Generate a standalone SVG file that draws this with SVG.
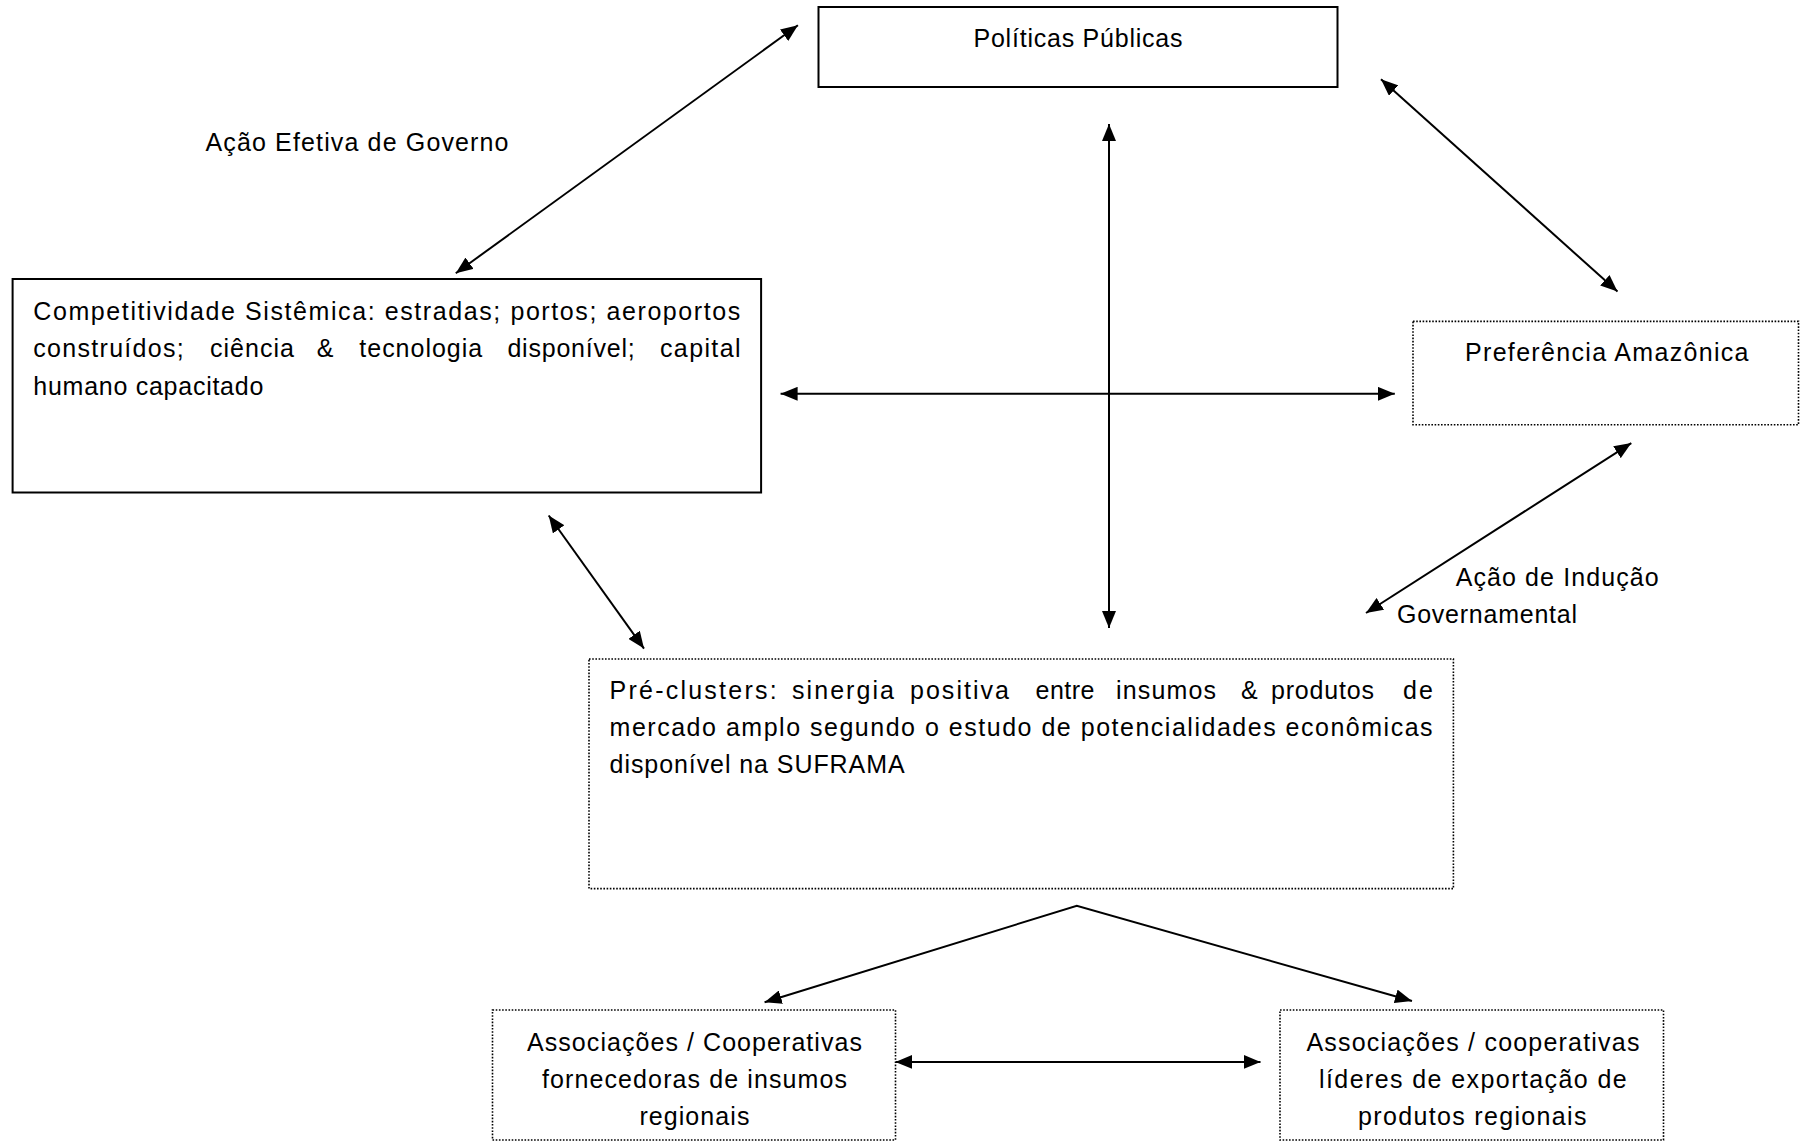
<svg xmlns="http://www.w3.org/2000/svg" width="1800" height="1141" viewBox="0 0 1800 1141">
<style>
  .box{fill:#fff;stroke:#000;stroke-width:2}
  .dot{fill:#fff;stroke:#000;stroke-width:1.6;stroke-dasharray:1.6 1.6}
  .t{font-family:"Liberation Sans",Arial,sans-serif;font-size:25px;fill:#000}
  .c{stroke:#000;stroke-width:2;fill:none}
</style>
<defs>
  <marker id="ah" markerUnits="userSpaceOnUse" markerWidth="18" markerHeight="14" refX="17" refY="7" orient="auto-start-reverse">
    <path d="M0,0 L17,7 L0,14 z" fill="#000"/>
  </marker>
</defs>
<rect width="1800" height="1141" fill="#fff"/>

<g id="connectors">
  <line class="c" x1="797.9" y1="25.3" x2="455.8" y2="273.2" marker-start="url(#ah)" marker-end="url(#ah)"/>
  <line class="c" x1="1381" y1="79.2" x2="1617.5" y2="291.6" marker-start="url(#ah)" marker-end="url(#ah)"/>
  <line class="c" x1="1109" y1="124" x2="1109" y2="628" marker-start="url(#ah)" marker-end="url(#ah)"/>
  <line class="c" x1="780.6" y1="393.8" x2="1394.8" y2="393.8" marker-start="url(#ah)" marker-end="url(#ah)"/>
  <line class="c" x1="1631.3" y1="443.1" x2="1366" y2="613" marker-start="url(#ah)" marker-end="url(#ah)"/>
  <line class="c" x1="548.7" y1="515.5" x2="644" y2="648.6" marker-start="url(#ah)" marker-end="url(#ah)"/>
  <polyline class="c" points="764.6,1002.2 1076.8,905.8 1412,1001" marker-start="url(#ah)" marker-end="url(#ah)"/>
  <line class="c" x1="895.4" y1="1061.9" x2="1260.5" y2="1061.9" marker-start="url(#ah)" marker-end="url(#ah)"/>
</g>

<g id="label-acao-efetiva">
  <text class="t" x="205.5" y="151" textLength="303" lengthAdjust="spacing">Ação Efetiva de Governo</text>
</g>
<g id="label-acao-inducao">
  <text class="t" x="1455.7" y="586" textLength="203" lengthAdjust="spacing">Ação de Indução</text>
  <text class="t" x="1397" y="623" textLength="180" lengthAdjust="spacing">Governamental</text>
</g>

<g id="node-politicas">
  <rect class="box" x="818.5" y="7" width="519" height="80"/>
  <text class="t" x="973.5" y="47" textLength="209" lengthAdjust="spacing">Políticas Públicas</text>
</g>

<g id="node-competitividade">
  <rect class="box" x="12.6" y="279" width="748.5" height="213.5"/>
  <text class="t" x="33.3" y="320" textLength="707" lengthAdjust="spacing">Competitividade Sistêmica: estradas; portos; aeroportos</text>
  <text class="t" x="33.3" y="357" textLength="150.4" lengthAdjust="spacing">construídos;</text>
  <text class="t" x="210" y="357" textLength="83.9" lengthAdjust="spacing">ciência</text>
  <text class="t" x="316.8" y="357" textLength="18.4" lengthAdjust="spacing">&amp;</text>
  <text class="t" x="359.3" y="357" textLength="122.9" lengthAdjust="spacing">tecnologia</text>
  <text class="t" x="507.4" y="357" textLength="127.4" lengthAdjust="spacing">disponível;</text>
  <text class="t" x="660" y="357" textLength="80.5" lengthAdjust="spacing">capital</text>
  <text class="t" x="33.3" y="395" textLength="230" lengthAdjust="spacing">humano capacitado</text>
</g>

<g id="node-preferencia">
  <rect class="dot" x="1413" y="321.4" width="385.5" height="103.4"/>
  <text class="t" x="1465" y="361" textLength="283.5" lengthAdjust="spacing">Preferência Amazônica</text>
</g>

<g id="node-preclusters">
  <rect class="dot" x="589" y="659" width="864.4" height="229.6"/>
  <text class="t" x="609.6" y="699" textLength="167" lengthAdjust="spacing">Pré-clusters:</text>
  <text class="t" x="792" y="699" textLength="102" lengthAdjust="spacing">sinergia</text>
  <text class="t" x="910" y="699" textLength="99" lengthAdjust="spacing">positiva</text>
  <text class="t" x="1035.5" y="699" textLength="59" lengthAdjust="spacing">entre</text>
  <text class="t" x="1116" y="699" textLength="100" lengthAdjust="spacing">insumos</text>
  <text class="t" x="1241" y="699" textLength="17" lengthAdjust="spacing">&amp;</text>
  <text class="t" x="1271" y="699" textLength="103" lengthAdjust="spacing">produtos</text>
  <text class="t" x="1403" y="699" textLength="30" lengthAdjust="spacing">de</text>
  <text class="t" x="609.6" y="736" textLength="823" lengthAdjust="spacing">mercado amplo segundo o estudo de potencialidades econômicas</text>
  <text class="t" x="609.6" y="773" textLength="295" lengthAdjust="spacing">disponível na SUFRAMA</text>
</g>

<g id="node-assoc-fornecedoras">
  <rect class="dot" x="492.5" y="1010" width="403" height="130"/>
  <text class="t" x="527" y="1051" textLength="335" lengthAdjust="spacing">Associações / Cooperativas</text>
  <text class="t" x="542" y="1088" textLength="305" lengthAdjust="spacing">fornecedoras de insumos</text>
  <text class="t" x="639.4" y="1125" textLength="110" lengthAdjust="spacing">regionais</text>
</g>

<g id="node-assoc-exportacao">
  <rect class="dot" x="1280" y="1010" width="383.5" height="130"/>
  <text class="t" x="1306.4" y="1051" textLength="333" lengthAdjust="spacing">Associações / cooperativas</text>
  <text class="t" x="1319" y="1088" textLength="307.7" lengthAdjust="spacing">líderes de exportação de</text>
  <text class="t" x="1358" y="1125" textLength="228.5" lengthAdjust="spacing">produtos regionais</text>
</g>
</svg>
